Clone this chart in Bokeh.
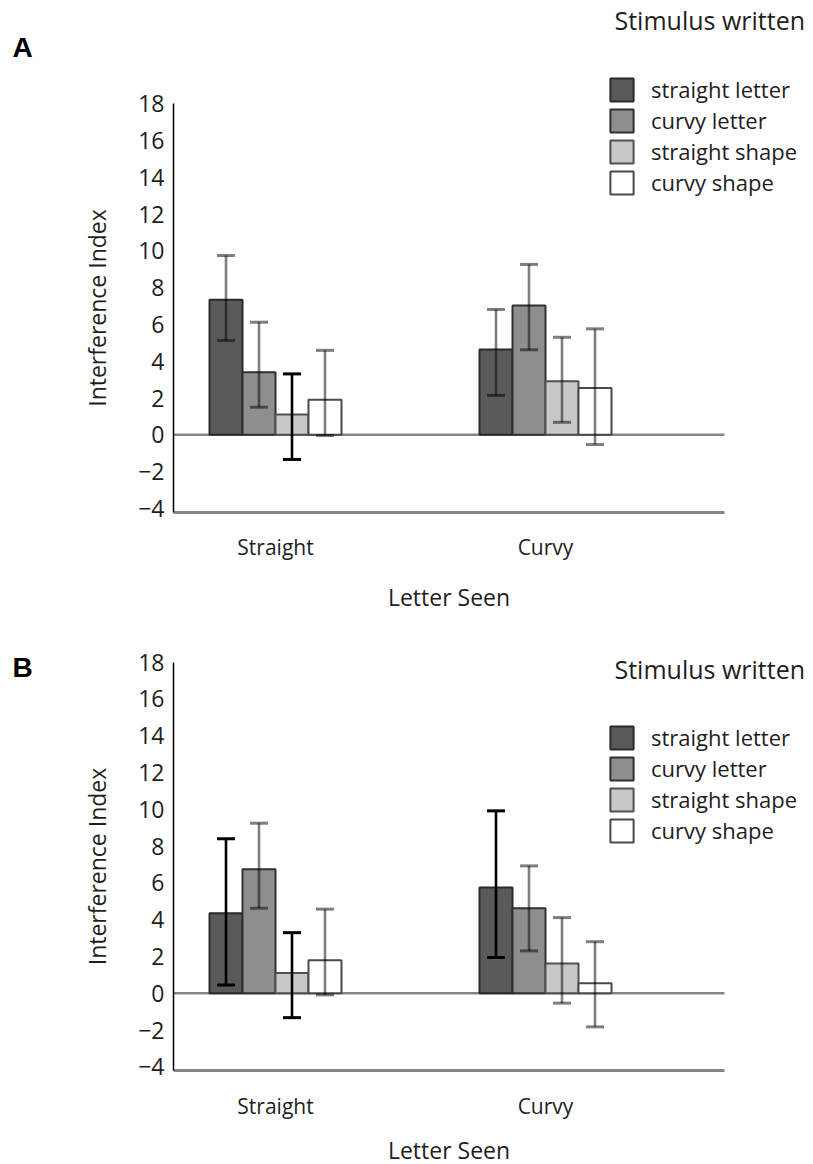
from bokeh.plotting import figure
from bokeh.models import FixedTicker, Range1d, Legend, LegendItem, Label
from bokeh.layouts import column
from bokeh.embed import file_html
from bokeh.resources import INLINE

# ---------------- data ----------------
letter_seen = ["Straight", "Curvy"]
series = ["straight letter", "curvy letter", "straight shape", "curvy shape"]
y_ticks = [-4, -2, 0, 2, 4, 6, 8, 10, 12, 14, 16, 18]

# Panel A: one list per series, values for [Straight, Curvy]
a_mean = [[7.34, 4.64], [3.40, 7.03], [1.10, 2.91], [1.90, 2.55]]
a_low = [[5.13, 2.14], [1.50, 4.62], [-1.34, 0.68], [-0.04, -0.53]]
a_high = [[9.74, 6.81], [6.12, 9.26], [3.31, 5.30], [4.59, 5.76]]

# Panel B
b_mean = [[4.35, 5.74], [6.74, 4.62], [1.10, 1.61], [1.79, 0.54]]
b_low = [[0.45, 1.94], [4.62, 2.30], [-1.33, -0.54], [-0.09, -1.83]]
b_high = [[8.39, 9.91], [9.24, 6.92], [3.29, 4.11], [4.57, 2.80]]

# ---------------- styles / geometry ----------------
FONT = "Open Sans"
TXT = "#1e1e1e"
fills = ["#5a5a5a", "#8e8e8e", "#c8c8c8", "#ffffff"]
outlines = ["#2a2a2a", "#303030", "#505050", "#4a4a4a"]
a_err_alpha = [[0.5, 0.5], [0.5, 0.5], [1.0, 0.5], [0.5, 0.5]]
b_err_alpha = [[1.0, 1.0], [0.5, 0.5], [1.0, 0.5], [0.5, 0.5]]

W = 813
PX_X = 270.0      # pixels per x unit (distance between group centres)
PX_Y = 18.4       # pixels per y unit
GROUP1_PX = 275   # page x of first group centre
BAR_W = 33 / PX_X
positions = [1, 2]
AXIS_X_PX, AXIS_END_PX = 173, 724
Y_AXIS_BOTTOM = -4.22


def px_x(page_x):
    return positions[0] + (page_x - GROUP1_PX) / PX_X


def make_panel(tag, mean, low, high, err_alpha, top_px, height, zero_px,
               legend_top_px, title_px, tag_px, xtitle_standoff):
    def px_y(page_y):
        return (zero_px - page_y) / PX_Y

    p = figure(
        width=W, height=height, min_border=0,
        x_range=Range1d(px_x(0), px_x(W)),
        y_range=Range1d(px_y(top_px + height), px_y(top_px)),
        output_backend="svg", toolbar_location=None, tools="",
    )
    p.outline_line_color = None
    p.xgrid.visible = False
    p.ygrid.visible = False

    x_axis_start, x_axis_end = px_x(AXIS_X_PX), px_x(AXIS_END_PX)

    # zero line
    p.segment(x0=[x_axis_start], y0=[0], x1=[x_axis_end], y1=[0],
              line_color="#858585", line_width=2.5)

    items = []
    for i, name in enumerate(series):
        xs = [pos + (i - 1.5) * BAR_W for pos in positions]
        r = p.vbar(x=xs, top=mean[i], bottom=0, width=BAR_W,
                   fill_color=fills[i], line_color=outlines[i], line_width=2)
        items.append(LegendItem(label=name, renderers=[r]))
        p.segment(x0=xs, y0=low[i], x1=xs, y1=high[i], line_color="black",
                  line_alpha=err_alpha[i], line_width=2.6)
        p.dash(x=xs, y=low[i], size=18, line_color="black",
               line_alpha=err_alpha[i], line_width=3)
        p.dash(x=xs, y=high[i], size=18, line_color="black",
               line_alpha=err_alpha[i], line_width=3)

    leg_h = 4 * 30 + 3 * 1
    legend = Legend(items=items,
                    location=(607, top_px + height - (legend_top_px + leg_h)),
                    glyph_width=29, glyph_height=29, label_height=29,
                    spacing=1, padding=0, margin=0, label_standoff=15,
                    border_line_color=None, background_fill_alpha=0,
                    label_text_font=FONT, label_text_font_size="22px",
                    label_text_color=TXT)
    p.add_layout(legend, "center")

    # y axis (fixed inside the frame)
    ya = p.yaxis[0]
    ya.fixed_location = x_axis_start
    ya.bounds = (Y_AXIS_BOTTOM, 18)
    ya.ticker = FixedTicker(ticks=y_ticks)
    ya.axis_line_color = "black"
    ya.axis_line_width = 1.5
    ya.major_tick_line_color = None
    ya.minor_tick_line_color = None
    ya.major_label_standoff = 3
    ya.major_label_text_font = FONT
    ya.major_label_text_font_size = "23px"
    ya.major_label_text_color = TXT
    ya.axis_label = "Interference Index"
    ya.axis_label_text_font = FONT
    ya.axis_label_text_font_size = "23px"
    ya.axis_label_text_font_style = "normal"
    ya.axis_label_text_color = TXT
    ya.axis_label_standoff = 22

    # x axis (fixed inside the frame)
    xa = p.xaxis[0]
    xa.fixed_location = Y_AXIS_BOTTOM
    xa.bounds = (x_axis_start, x_axis_end)
    xa.ticker = FixedTicker(ticks=positions)
    xa.major_label_overrides = {pos: lab for pos, lab in zip(positions, letter_seen)}
    xa.axis_line_color = "#858585"
    xa.axis_line_width = 3
    xa.major_tick_line_color = None
    xa.minor_tick_line_color = None
    xa.major_label_standoff = 15
    xa.major_label_text_font = FONT
    xa.major_label_text_font_size = "21px"
    xa.major_label_text_color = TXT
    xa.axis_label = "Letter Seen"
    xa.axis_label_text_font = FONT
    xa.axis_label_text_font_size = "23px"
    xa.axis_label_text_font_style = "normal"
    xa.axis_label_text_color = TXT
    xa.axis_label_standoff = xtitle_standoff

    p.add_layout(Label(x=px_x(614), y=px_y(title_px), text="Stimulus written",
                       text_font=FONT, text_font_size="25px", text_color=TXT,
                       text_baseline="middle", text_align="left"))
    p.add_layout(Label(x=px_x(12), y=px_y(tag_px), text=tag,
                       text_font="Liberation Sans", text_font_size="28px",
                       text_font_style="bold", text_color="black",
                       text_baseline="middle", text_align="left"))
    return p


pA = make_panel("A", a_mean, a_low, a_high, a_err_alpha,
                top_px=0, height=618, zero_px=434.3,
                legend_top_px=74, title_px=19, tag_px=47, xtitle_standoff=16)
pB = make_panel("B", b_mean, b_low, b_high, b_err_alpha,
                top_px=618, height=546, zero_px=992.7,
                legend_top_px=722, title_px=668, tag_px=667, xtitle_standoff=11)

layout = column(pA, pB, spacing=0)
open("out.html", "w").write(file_html(layout, INLINE))
